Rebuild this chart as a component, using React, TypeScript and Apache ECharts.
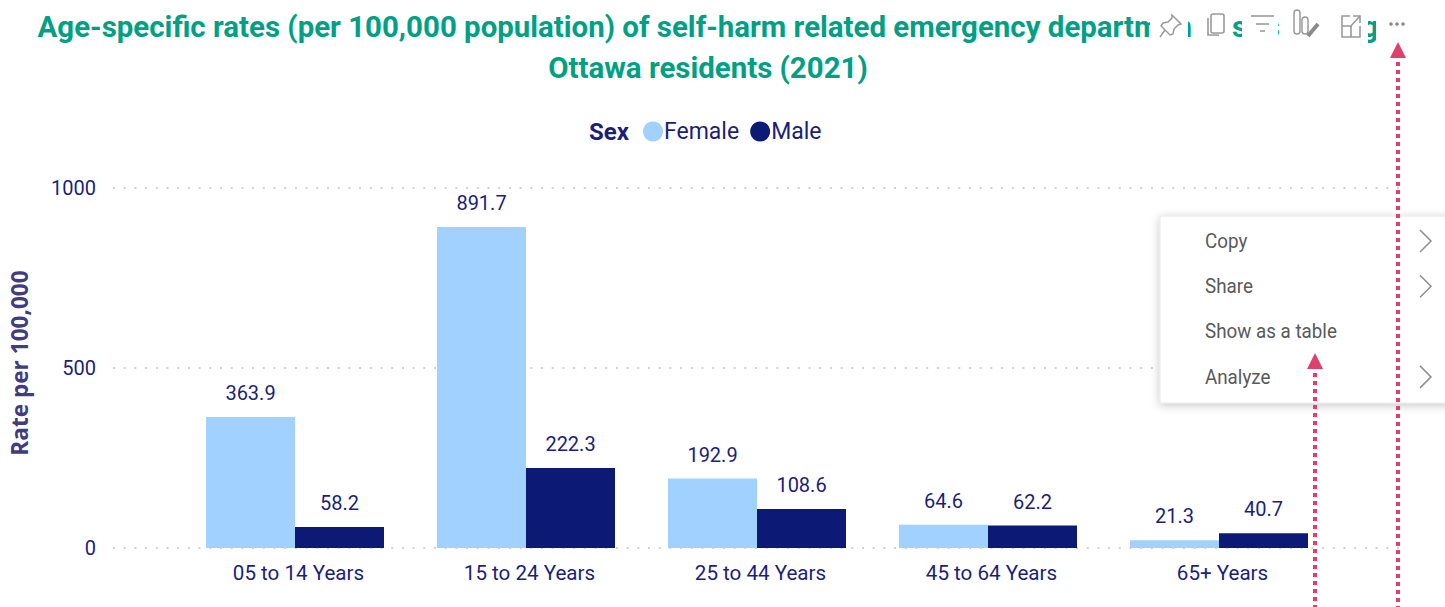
import React, { useEffect, useRef } from "react";
import * as echarts from "echarts";

const categories = ["05 to 14 Years", "15 to 24 Years", "25 to 44 Years", "45 to 64 Years", "65+ Years"];
const female = [363.9, 891.7, 192.9, 64.6, 21.3];
const male = [58.2, 222.3, 108.6, 62.2, 40.7];
const yTicks = [0, 500, 1000];
const titleLines = [
  "Age-specific rates (per 100,000 population) of self-harm related emergency department visits among",
  "Ottawa residents (2021)",
];
const menuItems = ["Copy", "Share", "Show as a table", "Analyze"];
const menuHasArrow = [true, true, false, true];

const FONT = "Roboto, 'Open Sans', sans-serif";
const NAVY = "#1B1F78";
const TEAL = "#01A085";
const PINK = "#E0406F";
const ICON = "#9a9a9a";

echarts.graphic.registerShape(
  "pinIcon",
  echarts.graphic.extendPath(
    "M13 1 L22 10 L19 11 L15 15 L14 20 L11 21 L2 12 L4 9 L9 8 L13 4 Z M6 16 L1 23",
    {}
  )
);

function iconLine(points: number[][], width = 1.6, color = ICON) {
  return {
    type: "polyline",
    z: 30,
    shape: { points },
    style: { stroke: color, lineWidth: width, fill: "none" },
  };
}

function whiteRect(x: number, w: number) {
  return { type: "rect", z: 20, shape: { x, y: 6, width: w, height: 38 }, style: { fill: "#fff" } };
}

function dottedArrow(x: number, tipY: number) {
  return [
    {
      type: "line",
      z: 40,
      shape: { x1: x, y1: tipY + 20, x2: x, y2: 607 },
      style: { stroke: PINK, lineWidth: 4, lineDash: [4, 4] },
    },
    {
      type: "polygon",
      z: 40,
      shape: { points: [[x, tipY], [x - 8, tipY + 16], [x + 8, tipY + 16]] },
      style: { fill: PINK },
    },
  ];
}

function buildGraphic() {
  const els: any[] = [];
  [[1150, 38], [1192, 40], [1242, 36], [1283, 85], [1376, 40]].forEach(([x, w]) =>
    els.push(whiteRect(x, w))
  );
  els.push({
    type: "pinIcon",
    z: 30,
    x: 1159,
    y: 14,
    style: { stroke: ICON, lineWidth: 1.5, fill: "none" },
  });
  els.push({ type: "rect", z: 30, shape: { x: 1211, y: 14, width: 13, height: 19, r: 2 }, style: { stroke: ICON, lineWidth: 1.6, fill: "#fff" } });
  els.push(iconLine([[1208, 18], [1208, 35], [1219, 35]]));
  els.push(iconLine([[1251, 16], [1274, 16]]));
  els.push(iconLine([[1256, 24], [1269, 24]]));
  els.push(iconLine([[1260, 31], [1265, 31]]));
  els.push({ type: "rect", z: 30, shape: { x: 1294, y: 10, width: 6, height: 24, r: 3 }, style: { stroke: ICON, lineWidth: 1.5, fill: "#fff" } });
  els.push({ type: "rect", z: 30, shape: { x: 1302, y: 17, width: 6, height: 17, r: 3 }, style: { stroke: ICON, lineWidth: 1.5, fill: "#fff" } });
  els.push(iconLine([[1308, 36], [1318, 24]], 4, "#8a8a8a"));
  els.push(iconLine([[1350, 16], [1342, 16], [1342, 37], [1360, 37], [1360, 26]]));
  els.push(iconLine([[1342, 26], [1351, 26], [1351, 37]]));
  els.push(iconLine([[1350, 27], [1360, 16]]));
  els.push(iconLine([[1353, 16], [1360, 16], [1360, 23]]));
  [1391, 1397, 1403].forEach((cx) =>
    els.push({ type: "circle", z: 30, shape: { cx, cy: 24, r: 1.8 }, style: { fill: "#8a8a8a" } })
  );

  els.push({
    type: "text",
    z: 30,
    x: 589,
    y: 132,
    style: { text: "Sex", font: `bold 24px ${FONT}`, fill: NAVY, verticalAlign: "middle" },
  });

  els.push({
    type: "rect",
    z: 32,
    shape: { x: 1160, y: 216, width: 300, height: 187 },
    style: { fill: "#fff", stroke: "#e6e6e6", lineWidth: 1, shadowBlur: 10, shadowColor: "rgba(0,0,0,0.22)", shadowOffsetY: 2 },
  });
  menuItems.forEach((label, i) => {
    const cy = 241 + i * 45.3;
    els.push({
      type: "text",
      z: 33,
      x: 1205,
      y: cy,
      scaleX: 0.94,
      style: { text: label, font: `20px ${FONT}`, fill: "#5a5a5a", verticalAlign: "middle" },
    });
    if (menuHasArrow[i]) {
      els.push({
        type: "polyline",
        z: 33,
        shape: { points: [[1420, cy - 11], [1431, cy], [1420, cy + 11]] },
        style: { stroke: "#8f8f8f", lineWidth: 1.5, fill: "none" },
      });
    }
  });

  els.push(...dottedArrow(1398, 42));
  els.push(...dottedArrow(1315, 353));
  return els;
}

export default function App() {
  const ref = useRef<HTMLDivElement>(null);
  useEffect(() => {
    const chart = echarts.init(ref.current!, undefined, { renderer: "svg" });
    const labelStyle = {
      show: true,
      position: "top" as const,
      distance: 14,
      color: NAVY,
      fontFamily: FONT,
      fontSize: 20,
      formatter: (p: any) => p.value.toFixed(1),
    };
    chart.setOption({
      animation: false,
      backgroundColor: "#fff",
      title: {
        text: titleLines.join("\n"),
        left: 703,
        top: 1,
        textAlign: "center",
        textStyle: { color: TEAL, fontFamily: FONT, fontWeight: "bold", fontSize: 29.45, lineHeight: 41 },
      },
      legend: {
        top: 115,
        left: 638,
        itemWidth: 20,
        itemHeight: 20,
        itemGap: 11,
        icon: "circle",
        textStyle: { color: NAVY, fontFamily: FONT, fontSize: 23, padding: [0, 0, 0, -4] },
        data: ["Female", "Male"],
      },
      grid: [
        { left: 113, width: 1289, top: 188, height: 360 },
        { left: 179.5, width: 1155, top: 188, height: 360 },
      ],
      xAxis: [
        { gridIndex: 0, type: "category", data: categories, show: false },
        {
          gridIndex: 1,
          type: "category",
          data: categories,
          axisLine: { show: false },
          axisTick: { show: false },
          axisLabel: { color: NAVY, fontFamily: FONT, fontSize: 20.6, margin: 14, padding: [0, 0, 0, 7] },
        },
      ],
      yAxis: [
        {
          gridIndex: 0,
          type: "value",
          min: 0,
          max: 1000,
          interval: 500,
          name: "Rate per 100,000",
          nameLocation: "middle",
          nameGap: 82,
          nameTextStyle: { color: "#3F3C80", fontFamily: "'Open Sans', sans-serif", fontWeight: "bold", fontSize: 22.6, padding: [0, 0, 0, 10] },
          axisLine: { show: false },
          axisTick: { show: false },
          axisLabel: {
            color: NAVY,
            fontFamily: FONT,
            fontSize: 20,
            margin: 17,
            formatter: (v: number) => (yTicks.includes(v) ? String(v) : ""),
          },
          splitLine: { show: true, lineStyle: { color: "#d2d2d2", width: 2, type: [2, 8.7] } },
        },
        { gridIndex: 1, type: "value", min: 0, max: 1000, interval: 500, show: false, splitLine: { show: false } },
      ],
      series: [
        {
          name: "Female",
          type: "bar",
          xAxisIndex: 1,
          yAxisIndex: 1,
          data: female,
          barWidth: 89,
          barGap: "0%",
          itemStyle: { color: "#A0D1FF" },
          label: labelStyle,
        },
        {
          name: "Male",
          type: "bar",
          xAxisIndex: 1,
          yAxisIndex: 1,
          data: male,
          barWidth: 89,
          barGap: "0%",
          itemStyle: { color: "#0C1A75" },
          label: labelStyle,
        },
      ],
      graphic: { elements: buildGraphic() },
    });
    return () => chart.dispose();
  }, []);
  return (
    <div
      ref={ref}
      style={{ position: "absolute", left: 0, top: 0, width: 1445, height: 607, background: "#fff", overflow: "hidden" }}
    />
  );
}
